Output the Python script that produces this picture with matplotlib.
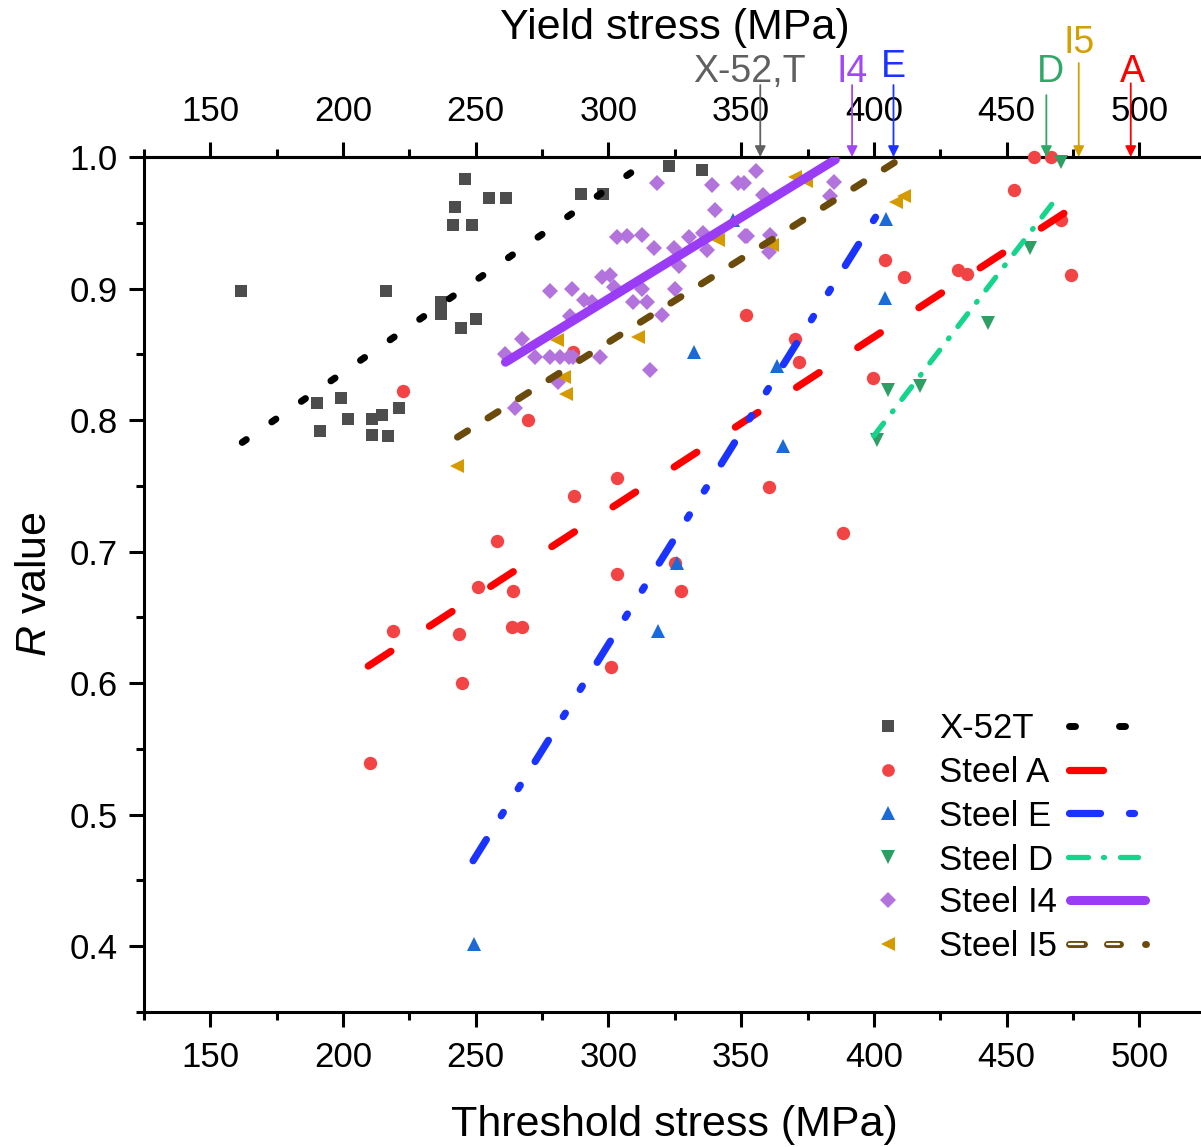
import numpy as np
import matplotlib.pyplot as plt
from matplotlib.ticker import MultipleLocator

plt.rcParams['font.family'] = ['Liberation Sans', 'DejaVu Sans']
plt.rcParams['mathtext.fontset'] = 'custom'
plt.rcParams['mathtext.it'] = 'Liberation Sans:italic'
plt.rcParams['mathtext.rm'] = 'Liberation Sans'
plt.rcParams['lines.scale_dashes'] = False

# -------------------------
# data
# -------------------------
x52_x = [161.7, 216, 246, 242, 241.6, 248.7, 255, 261.3, 237, 237, 244.4, 250.2,
         199.4, 190, 202, 211, 214.7, 221, 191.2, 211, 217, 289.5, 297.8, 323, 335.2]
x52_y = [0.898, 0.898, 0.983, 0.962, 0.948, 0.948, 0.969, 0.969, 0.890, 0.881, 0.870, 0.877,
         0.817, 0.813, 0.801, 0.801, 0.804, 0.809, 0.792, 0.789, 0.788, 0.972, 0.972, 0.993, 0.990]

a_x = [218.7, 210, 243.8, 245, 250.8, 258, 264.2, 263.7, 267.4, 286.9, 303.2, 303.2, 301,
       325.2, 327.3, 269.8, 222.7, 351.8, 286.5, 460.2, 466.7, 452.7, 470.6, 474.4, 404.3,
       411.5, 431.6, 435.1, 370.2, 371.7, 399.7, 360.4, 388.5]
a_y = [0.640, 0.539, 0.637, 0.600, 0.673, 0.708, 0.670, 0.643, 0.643, 0.742, 0.756, 0.683, 0.612,
       0.691, 0.670, 0.800, 0.822, 0.880, 0.852, 1.000, 1.000, 0.975, 0.952, 0.910, 0.922,
       0.909, 0.914, 0.911, 0.862, 0.844, 0.832, 0.749, 0.714]

e_x = [249.3, 318.6, 325.8, 332.4, 365.7, 363.5, 404.3, 404.7, 347.1]
e_y = [0.402, 0.640, 0.691, 0.852, 0.780, 0.841, 0.893, 0.953, 0.952]

d_x = [401, 405.3, 417.5, 443, 459, 470.5]
d_y = [0.785, 0.823, 0.826, 0.874, 0.931, 0.996]

i4_x = [318.4, 339, 348.8, 350.9, 355.7, 340.3, 358.4, 303.2, 307, 312.6, 317, 324.6, 330.2,
        335.8, 337.1, 351.6, 326.4, 297.5, 300.7, 302, 312.6, 325.2, 278.1, 286.2, 290.7,
        293.8, 309.4, 314.5, 285.6, 320.1, 267.4, 261.1, 272.5, 278.1, 281.9, 285, 286.8,
        296.9, 315.8, 280.9, 264.9, 384.9, 383.6, 352.2, 361, 360.4]
i4_y = [0.980, 0.979, 0.980, 0.980, 0.989, 0.960, 0.971, 0.939, 0.940, 0.941, 0.931, 0.931, 0.939,
        0.942, 0.929, 0.940, 0.917, 0.909, 0.910, 0.901, 0.900, 0.900, 0.898, 0.900, 0.891,
        0.890, 0.890, 0.890, 0.879, 0.880, 0.862, 0.850, 0.848, 0.848, 0.848, 0.848, 0.848,
        0.848, 0.838, 0.829, 0.809, 0.981, 0.970, 0.940, 0.941, 0.928]

i5_x = [243.1, 280.6, 283.1, 284.1, 311.1, 341.1, 370.4, 374.5, 361.6, 411.2, 408.5]
i5_y = [0.765, 0.861, 0.833, 0.820, 0.863, 0.937, 0.985, 0.982, 0.933, 0.970, 0.966]

# linear fits (end points)
fit_x52 = ([162, 312], [0.783, 0.993])
fit_a = ([209.5, 475.3], [0.613, 0.962])
fit_e = ([249, 404.6], [0.465, 0.967])
fit_d = ([400, 467.4], [0.788, 0.965])
fit_i4 = ([261.2, 385.5], [0.844, 0.998])
fit_i5 = ([243.1, 411.1], [0.787, 1.0])

# yield stress of each steel (top axis arrows)
yield_names = ['X-52,T', 'I4', 'E', 'D', 'I5', 'A']
yield_vals = [357.2, 391.8, 407.4, 465.0, 477.2, 496.8]

labels = ['X-52T', 'Steel A', 'Steel E', 'Steel D', 'Steel I4', 'Steel I5']
xticks = [150, 200, 250, 300, 350, 400, 450, 500]

# -------------------------
# styles
# -------------------------
P = 0.72  # px -> pt at dpi 100
series = [
    # x, y, marker, ms, mcolor, fit, lcolor, lw, dashes
    (x52_x, x52_y, 's', 9.0, '#4d4d4d', fit_x52, '#000000', 5.0, [5 * P, 31 * P]),
    (a_x, a_y, 'o', 9.6, '#f24444', fit_a, '#ff0000', 5.2, [27 * P, 46 * P]),
    (e_x, e_y, '^', 10.5, '#1a6ad8', fit_e, '#1a33ff', 5.2,
     [25 * P, 28 * P, 4 * P, 28 * P, 4 * P, 28 * P]),
    (d_x, d_y, 'v', 10.5, '#2e9e64', fit_d, '#15d48c', 3.8,
     [16 * P, 14.5 * P, 1 * P, 14.5 * P]),
    (i4_x, i4_y, 'D', 8.2, '#b273dd', fit_i4, '#9a3cf5', 6.5, None),
    (i5_x, i5_y, '<', 10.5, '#d49a00', fit_i5, '#6b4b0b', 5.0, [12 * P, 24 * P]),
]

yield_cols = ['#606060', '#a048f5', '#1a33ff', '#2ea866', '#d4a000', '#ff0000']
# label centre x, label baseline y, arrow start y (data units above the frame)
yield_lab_x = [353.1, 391.8, 407.4, 466.7, 477.4, 497.4]
yield_lab_y = [1.057, 1.057, 1.061, 1.057, 1.079, 1.057]
yield_arr_y = [1.0547, 1.0547, 1.0547, 1.047, 1.0714, 1.056]

# -------------------------
# figure
# -------------------------
W, H = 1201, 1147
fig = plt.figure(figsize=(W / 100, H / 100), dpi=100)
ax_l, ax_b, ax_w, ax_h = 144, 1012, 1061.6, 855
ax = fig.add_axes([ax_l / W, (H - ax_b) / H, ax_w / W, ax_h / H])

for xs, ys, mk, ms, mc, fit, lc, lw, ds in series:
    ax.plot(xs, ys, ls='none', marker=mk, ms=ms, mfc=mc, mec=mc, mew=0,
            clip_on=False, zorder=3)

for xs, ys, mk, ms, mc, fit, lc, lw, ds in series:
    if ds is None:
        ax.plot(fit[0], fit[1], color=lc, lw=lw, solid_capstyle='round', zorder=4)
    else:
        ax.plot(fit[0], fit[1], color=lc, lw=lw, dashes=ds,
                dash_capstyle='round', zorder=4)

ax.set_xlim(125, 525)
ax.set_ylim(0.35, 1.0)

ax.set_xticks(xticks)
ax.xaxis.set_minor_locator(MultipleLocator(25))
ax.yaxis.set_major_locator(MultipleLocator(0.1))
ax.yaxis.set_minor_locator(MultipleLocator(0.05))
ax.yaxis.set_major_formatter(plt.FuncFormatter(lambda v, p: f'{v:.1f}'))

for s in ['left', 'bottom', 'top']:
    ax.spines[s].set_linewidth(2.2)
ax.spines['right'].set_visible(False)

ax.tick_params(which='both', direction='out', width=2.2, labelsize=25, top=False, right=False)
ax.tick_params(which='major', length=11)
ax.tick_params(which='minor', length=5.5)
ax.tick_params(axis='x', pad=10)
ax.tick_params(axis='y', pad=8)

ax.set_xlabel('Threshold stress (MPa)', fontsize=31, labelpad=22)
ax.set_ylabel(r'$R$ value', fontsize=31, labelpad=10)

secax = ax.secondary_xaxis('top')
secax.set_xticks(xticks)
secax.xaxis.set_minor_locator(MultipleLocator(25))
secax.spines['top'].set_linewidth(2.2)
secax.tick_params(which='both', direction='out', width=2.2, labelsize=25, pad=10)
secax.tick_params(which='major', length=11)
secax.tick_params(which='minor', length=5.5)
secax.set_xlabel('Yield stress (MPa)', fontsize=31, labelpad=40)

# yield stress arrows
for name, xv, c, lx, ly, ay in zip(yield_names, yield_vals, yield_cols,
                                   yield_lab_x, yield_lab_y, yield_arr_y):
    ax.annotate('', xy=(xv, 1.0), xytext=(xv, ay),
                arrowprops=dict(arrowstyle='-|>', color=c, lw=1.3,
                                mutation_scale=16, shrinkA=0, shrinkB=0),
                annotation_clip=False)
    ax.text(lx, ly, name, color=c, fontsize=27, ha='center', va='baseline',
            clip_on=False)

# -------------------------
# legend (marker, text, line sample) in axes fractions
# -------------------------
def fx(px):
    return (px - ax_l) / ax_w

def fy(py):
    return (ax_b - py) / ax_h

rows = [726, 770, 813, 857, 900, 944]
leg_lines = [
    ([1069, 1126], [6 * P, 44 * P]),
    ([1069, 1150], [34 * P, 60 * P]),
    ([1068.5, 1134], [31 * P, 29 * P, 5 * P, 40 * P]),
    ([1067.5, 1138], [20 * P, 15 * P, 1 * P, 16 * P, 18 * P, 30 * P]),
    ([1070, 1145], None),
    ([1068.5, 1145.5], [15 * P, 23 * P, 13 * P, 25 * P, 1 * P, 30 * P]),
]
for (xs, ys, mk, ms, mc, fit, lc, lw, ds), lab, ry, (lseg, lds) in zip(series, labels, rows, leg_lines):
    ax.plot([fx(888)], [fy(ry)], ls='none', marker=mk, ms=ms * 0.95, mfc=mc, mec=mc,
            mew=0, transform=ax.transAxes, clip_on=False)
    ax.text(fx(939), fy(ry + 12.5), lab, fontsize=25, ha='left', va='baseline',
            transform=ax.transAxes)
    xl = [fx(lseg[0]), fx(lseg[1])]
    yl = [fy(ry), fy(ry)]
    if lds is None:
        ax.plot(xl, yl, color=lc, lw=lw, solid_capstyle='round',
                transform=ax.transAxes, clip_on=False)
    else:
        ax.plot(xl, yl, color=lc, lw=lw, dashes=lds, dash_capstyle='round',
                transform=ax.transAxes, clip_on=False)
    if lab == 'Steel I5':
        ax.plot(xl, yl, color='white', lw=1.6, dashes=[14 * P, 24 * P, 12 * P, 100 * P],
                dash_capstyle='round', transform=ax.transAxes, clip_on=False)

fig.savefig('out.png', dpi=100)
